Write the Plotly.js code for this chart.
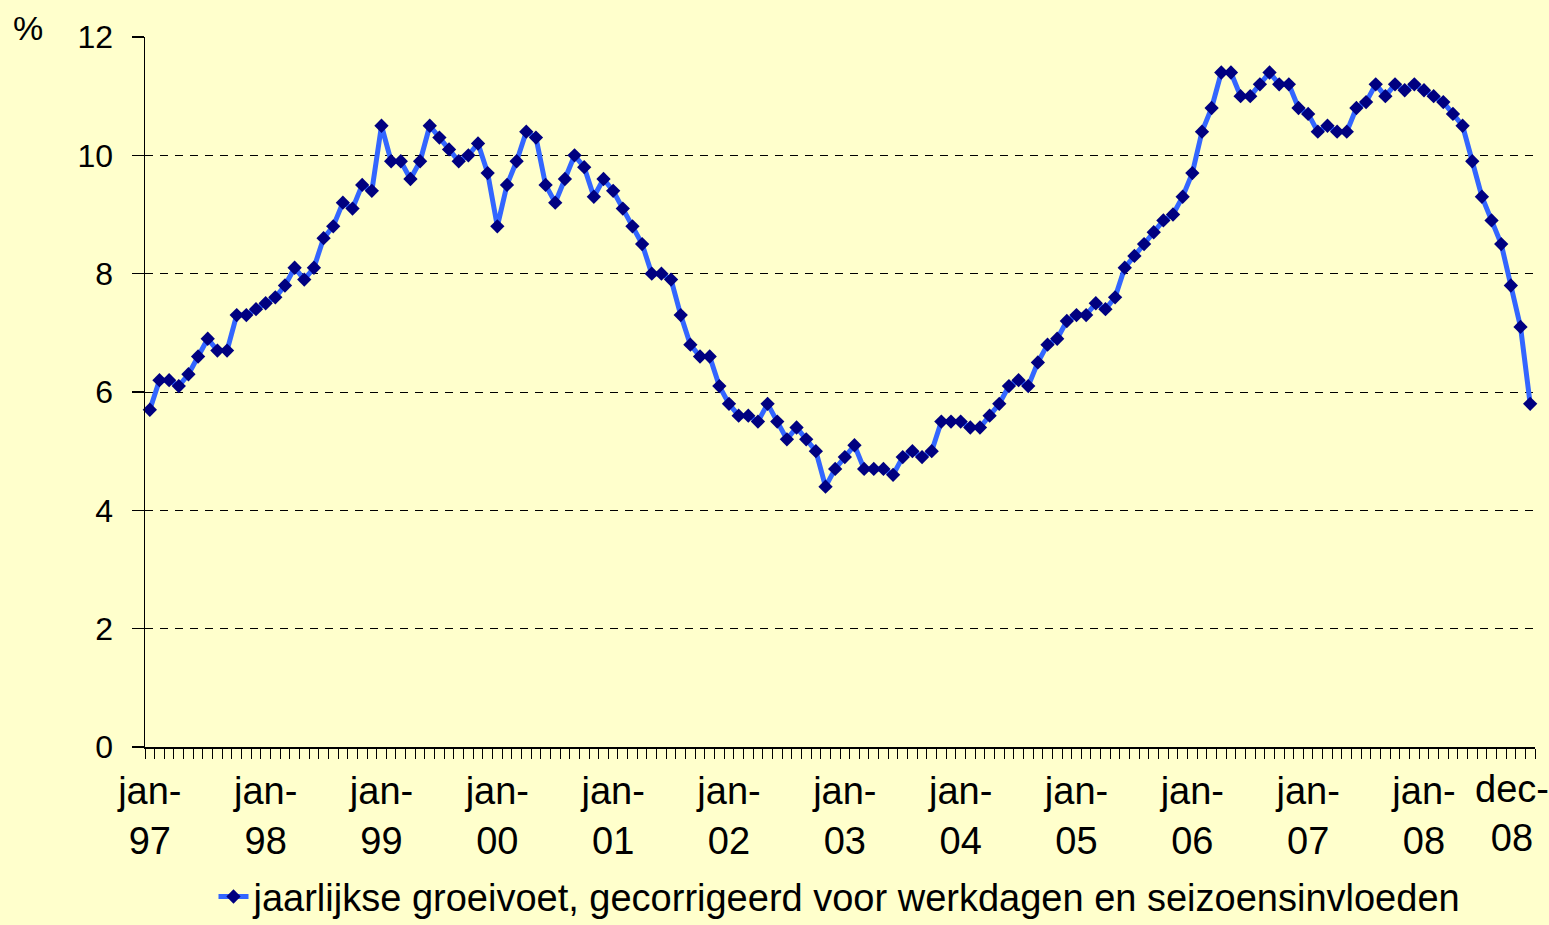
<!DOCTYPE html>
<html>
<head>
<meta charset="utf-8">
<script src="https://cdn.plot.ly/plotly-3.0.1.min.js"></script>
<style>html,body{margin:0;padding:0;background:#FFFFCC;}#chart{width:1549px;height:925px;}</style>
</head>
<body>
<div id="chart"></div>
<script>
// Monthly, jan-97 .. dec-08
const growth1997 = [5.7, 6.2, 6.2, 6.1, 6.3, 6.6, 6.9, 6.7, 6.7, 7.3, 7.3, 7.4];
const growth1998 = [7.5, 7.6, 7.8, 8.1, 7.9, 8.1, 8.6, 8.8, 9.2, 9.1, 9.5, 9.4];
const growth1999 = [10.5, 9.9, 9.9, 9.6, 9.9, 10.5, 10.3, 10.1, 9.9, 10.0, 10.2, 9.7];
const growth2000 = [8.8, 9.5, 9.9, 10.4, 10.3, 9.5, 9.2, 9.6, 10.0, 9.8, 9.3, 9.6];
const growth2001 = [9.4, 9.1, 8.8, 8.5, 8.0, 8.0, 7.9, 7.3, 6.8, 6.6, 6.6, 6.1];
const growth2002 = [5.8, 5.6, 5.6, 5.5, 5.8, 5.5, 5.2, 5.4, 5.2, 5.0, 4.4, 4.7];
const growth2003 = [4.9, 5.1, 4.7, 4.7, 4.7, 4.6, 4.9, 5.0, 4.9, 5.0, 5.5, 5.5];
const growth2004 = [5.5, 5.4, 5.4, 5.6, 5.8, 6.1, 6.2, 6.1, 6.5, 6.8, 6.9, 7.2];
const growth2005 = [7.3, 7.3, 7.5, 7.4, 7.6, 8.1, 8.3, 8.5, 8.7, 8.9, 9.0, 9.3];
const growth2006 = [9.7, 10.4, 10.8, 11.4, 11.4, 11.0, 11.0, 11.2, 11.4, 11.2, 11.2, 10.8];
const growth2007 = [10.7, 10.4, 10.5, 10.4, 10.4, 10.8, 10.9, 11.2, 11.0, 11.2, 11.1, 11.2];
const growth2008 = [11.1, 11.0, 10.9, 10.7, 10.5, 9.9, 9.3, 8.9, 8.5, 7.8, 7.1, 5.8];

const tickPositions = [0, 12, 24, 36, 48, 60, 72, 84, 96, 108, 120, 132];
const tickLabels = ["jan-<br>97", "jan-<br>98", "jan-<br>99", "jan-<br>00", "jan-<br>01", "jan-<br>02",
  "jan-<br>03", "jan-<br>04", "jan-<br>05", "jan-<br>06", "jan-<br>07", "jan-<br>08"];
const lastTickPosition = 143;
const lastTickLabel = "dec-<br>08";
const seriesName = "jaarlijkse groeivoet, gecorrigeerd voor werkdagen en seizoensinvloeden";
const yUnit = "%";

const values = [].concat(growth1997, growth1998, growth1999, growth2000, growth2001, growth2002,
  growth2003, growth2004, growth2005, growth2006, growth2007, growth2008);
const months = values.map((v, i) => i);

const FONT = "Liberation Sans, Arial, sans-serif";

const trace = {
  x: months,
  y: values,
  type: "scatter",
  mode: "lines+markers",
  name: seriesName,
  line: {color: "#3366FF", width: 5},
  marker: {symbol: "diamond", size: 11, color: "#000080", line: {width: 0}},
  cliponaxis: false
};

const layout = {
  width: 1549,
  height: 925,
  paper_bgcolor: "#FFFFCC",
  plot_bgcolor: "#FFFFCC",
  margin: {l: 145, r: 14, t: 37, b: 178, autoexpand: false},
  font: {family: FONT, size: 32, color: "#000"},
  showlegend: true,
  legend: {
    orientation: "h",
    x: 0.5, xanchor: "center",
    y: -0.211, yanchor: "middle",
    bgcolor: "rgba(0,0,0,0)",
    font: {family: FONT, size: 38, color: "#000"}
  },
  xaxis: {
    range: [-0.5, 143.5],
    showgrid: false,
    zeroline: false,
    showline: true,
    linecolor: "#000",
    linewidth: 1.5,
    tickmode: "array",
    tickvals: tickPositions,
    ticktext: tickLabels,
    ticks: "outside",
    ticklen: 10,
    tickcolor: "rgba(0,0,0,0)",
    tickfont: {family: FONT, size: 38, color: "#000"},
    ticklabelstandoff: 0,
    minor: {
      tickmode: "linear",
      tick0: -0.5,
      dtick: 1,
      ticks: "outside",
      ticklen: 10,
      tickwidth: 1,
      tickcolor: "#000",
      showgrid: false
    },
    fixedrange: true
  },
  yaxis: {
    range: [0, 12],
    tickmode: "linear",
    tick0: 0,
    dtick: 2,
    showgrid: true,
    gridcolor: "#000",
    gridwidth: 1,
    griddash: "8px,7px",
    zeroline: false,
    showline: true,
    linecolor: "#000",
    linewidth: 1.5,
    ticks: "outside",
    ticklen: 12,
    tickwidth: 1.5,
    tickcolor: "#000",
    tickfont: {family: FONT, size: 32, color: "#000"},
    ticklabelstandoff: 12,
    fixedrange: true
  },
  annotations: [{
    text: yUnit,
    xref: "paper", yref: "paper",
    x: -0.084, y: 1.012,
    xanchor: "center", yanchor: "middle",
    showarrow: false,
    font: {family: FONT, size: 34, color: "#000"}
  }, {
    text: lastTickLabel,
    xref: "x", yref: "y",
    x: lastTickPosition, y: 0,
    xanchor: "center", yanchor: "top",
    xshift: -18, yshift: -19,
    align: "center",
    showarrow: false,
    font: {family: FONT, size: 38, color: "#000"}
  }]
};

Plotly.newPlot("chart", [trace], layout, {displayModeBar: false, staticPlot: true});
</script>
</body>
</html>
